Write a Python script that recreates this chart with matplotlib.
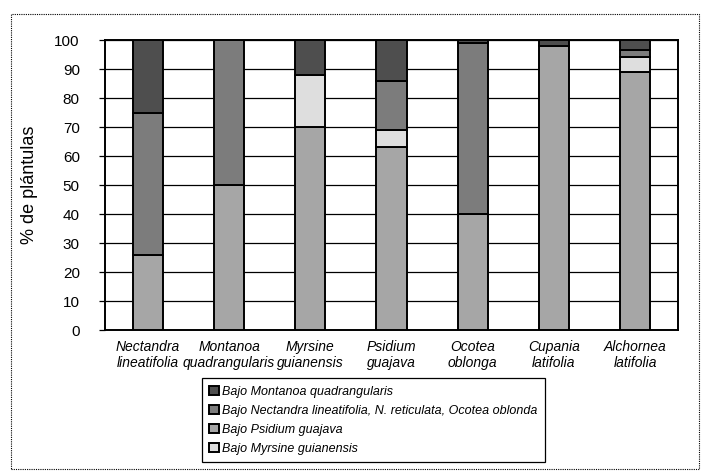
import matplotlib.pyplot as plt
import numpy as np
from matplotlib.patches import Rectangle

plt.rcParams['font.family'] = ['Liberation Sans', 'DejaVu Sans']

species = ["Nectandra\nlineatifolia", "Montanoa\nquadrangularis", "Myrsine\nguianensis",
           "Psidium\nguajava", "Ocotea\noblonga", "Cupania\nlatifolia", "Alchornea\nlatifolia"]

# % de plántulas bajo cada tipo de árbol (stack order bottom -> top)
psidium = [26, 50, 70, 63, 40, 98, 89]
myrsine = [0, 0, 18, 6, 0, 0, 5]
nectandra = [49, 50, 0, 17, 59, 0, 2.5]
montanoa = [25, 0, 12, 14, 1, 2, 3.5]

labels = {
    "montanoa": "Bajo Montanoa quadrangularis",
    "nectandra": "Bajo Nectandra lineatifolia, N. reticulata, Ocotea oblonda",
    "psidium": "Bajo Psidium guajava",
    "myrsine": "Bajo Myrsine guianensis",
}

fig = plt.figure(figsize=(7.08, 4.71), dpi=100)
ax = fig.add_axes([0.148, 0.299, 0.81, 0.616])

x = np.arange(len(species))
w = 0.37
bottom = np.zeros(len(species))
handles = {}
for key, vals, col in [("psidium", psidium, "#a6a6a6"),
                       ("myrsine", myrsine, "#dedede"),
                       ("nectandra", nectandra, "#7c7c7c"),
                       ("montanoa", montanoa, "#4e4e4e")]:
    vals = np.array(vals, dtype=float)
    b = ax.bar(x, vals, w, bottom=bottom, color=col, edgecolor="black",
               linewidth=1.4, zorder=3, label=labels[key])
    handles[key] = b
    bottom += vals

ax.set_xlim(-0.53, 6.53)
ax.set_ylim(0, 100)
ax.set_yticks(np.arange(0, 101, 10))
ax.yaxis.grid(True, color="black", linewidth=0.9, zorder=0)
ax.tick_params(axis="y", length=4, width=0.9, labelsize=11, pad=14)
ax.tick_params(axis="x", length=0, pad=7)
ax.set_xticks(x)
ax.set_xticklabels(species, fontstyle="italic", fontsize=10, linespacing=1.15)
ax.set_ylabel("% de plántulas", fontsize=13, labelpad=12)
for s in ax.spines.values():
    s.set_linewidth(1.4)

order = ["montanoa", "nectandra", "psidium", "myrsine"]
leg = fig.legend([handles[k] for k in order], [labels[k] for k in order],
                 loc="upper left", bbox_to_anchor=(0.285, 0.197), borderaxespad=0,
                 fancybox=False, edgecolor="black", framealpha=1,
                 prop={"style": "italic", "size": 9},
                 handlelength=0.8, handleheight=0.8, handletextpad=0.2,
                 labelspacing=0.55, borderpad=0.6)
leg.get_frame().set_linewidth(0.9)

fig.patches.append(Rectangle((0.015, 0.005), 0.972, 0.965, transform=fig.transFigure,
                             fill=False, edgecolor="black", linewidth=0.8,
                             linestyle=(0, (1, 1))))

fig.savefig("out.png", dpi=100)
